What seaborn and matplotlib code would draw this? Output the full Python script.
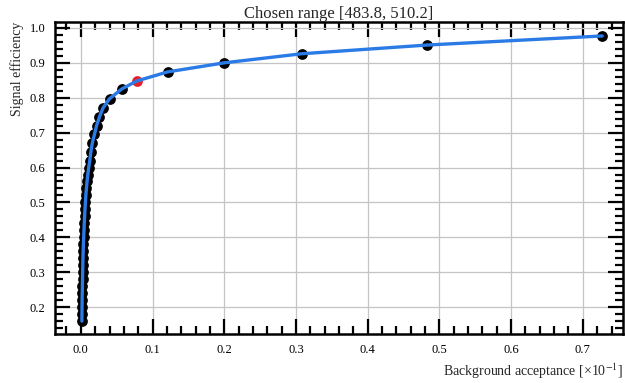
import matplotlib
matplotlib.use("Agg")
import matplotlib.pyplot as plt
import seaborn as sns
import pandas as pd
from matplotlib.ticker import MultipleLocator

# ROC-style working points: background acceptance (x 1e-1) vs signal efficiency
bkg_acceptance = [0.0015, 0.0016, 0.0017, 0.0018, 0.0020, 0.0022, 0.0024, 0.0026,
                  0.0028, 0.0030, 0.0033, 0.0036, 0.0040, 0.0044, 0.0048, 0.0053,
                  0.0058, 0.0064, 0.0070, 0.0078, 0.0087, 0.0098, 0.0110, 0.0125,
                  0.0140, 0.0160, 0.0190, 0.0220, 0.0260, 0.0310, 0.0400, 0.0570,
                  0.0780, 0.1210, 0.2000, 0.3080, 0.4830, 0.7270]
sig_efficiency = [0.160, 0.180, 0.200, 0.220, 0.240, 0.260, 0.280, 0.300,
                  0.320, 0.340, 0.360, 0.380, 0.400, 0.420, 0.440, 0.460,
                  0.480, 0.500, 0.520, 0.540, 0.560, 0.580, 0.600, 0.620,
                  0.645, 0.670, 0.695, 0.720, 0.745, 0.771, 0.797, 0.825,
                  0.848, 0.874, 0.900, 0.926, 0.951, 0.977]
chosen_index = 32
title_text = "Chosen range [483.8, 510.2]"
x_label = "Background acceptance [×10$^{-1}$]"
y_label = "Signal efficiency"

df = pd.DataFrame({"bkg": bkg_acceptance, "sig": sig_efficiency})
chosen = df.iloc[[chosen_index]]
others = df.drop(index=chosen_index)

sns.set_style("ticks")
plt.rcParams["font.family"] = ["Liberation Serif", "DejaVu Serif"]
plt.rcParams["mathtext.fontset"] = "stix"

fig = plt.figure(figsize=(6.25, 3.83), dpi=100)
ax = fig.add_axes([55 / 625, 1 - 334 / 383, (623 - 55) / 625, (334 - 22) / 383])

ax.grid(True, color="#c4c4c4", linewidth=0.9, zorder=0)
ax.set_axisbelow(True)

sns.scatterplot(data=others, x="bkg", y="sig", ax=ax, color="black", s=60,
                edgecolor="black", linewidth=0, zorder=3, legend=False)
sns.scatterplot(data=chosen, x="bkg", y="sig", ax=ax, color="#e8202a", s=60,
                edgecolor="#e8202a", linewidth=0, zorder=4, legend=False)
sns.lineplot(data=df, x="bkg", y="sig", ax=ax, color="#2b7be6", linewidth=2.4,
             sort=False, zorder=5, legend=False)

ax.set_xlim(-0.036, 0.756)
ax.set_ylim(0.123, 1.017)
ax.xaxis.set_major_locator(MultipleLocator(0.1))
ax.xaxis.set_minor_locator(MultipleLocator(0.02))
ax.yaxis.set_major_locator(MultipleLocator(0.1))
ax.yaxis.set_minor_locator(MultipleLocator(0.02))
ax.tick_params(which="both", direction="in", top=True, right=True,
               labelsize=9, colors="black", width=1.6, pad=7)
ax.tick_params(which="major", length=11)
ax.tick_params(which="minor", length=6)
for s in ax.spines.values():
    s.set_linewidth(1.8)
    s.set_color("black")

ax.set_title(title_text, fontsize=12, pad=3)
ax.set_xlabel(x_label, fontsize=10, loc="right")
ax.set_ylabel(y_label, fontsize=10, loc="top")

fig.savefig("out.png", dpi=100)
